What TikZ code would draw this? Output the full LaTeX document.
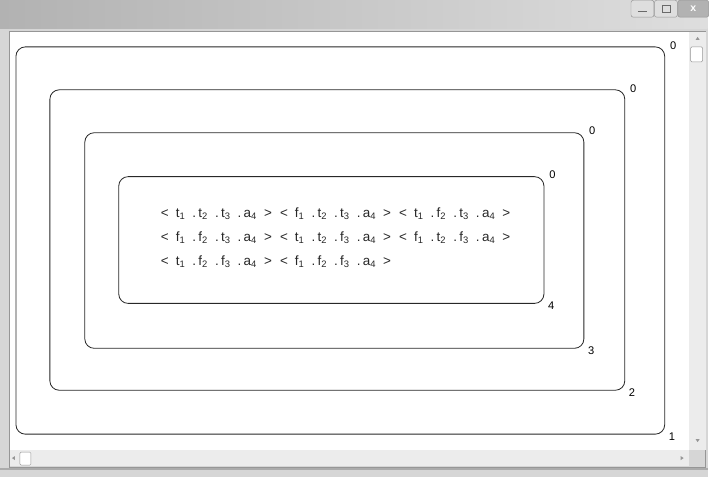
\documentclass[tikz,border=0pt]{standalone}
\usepackage{fontspec}
\setmainfont{Liberation Sans}
\usetikzlibrary{positioning}
\definecolor{FrameGray}{RGB}{214, 214, 214}
\definecolor{TitleDark}{RGB}{178, 178, 178}
\definecolor{TitleLight}{RGB}{222, 222, 222}
\definecolor{BarGray}{RGB}{236, 236, 236}
\definecolor{EdgeGray}{RGB}{150, 150, 150}
\definecolor{LineGray}{RGB}{40, 40, 40}

\newcommand{\tpl}[3]{<\hspace{6pt}#1\textsubscript{1}\hspace{6pt}.\hspace{2pt}#2\textsubscript{2}\hspace{6pt}.\hspace{2pt}#3\textsubscript{3}\hspace{6pt}.\hspace{2pt}a\textsubscript{4}\hspace{6pt}>}
\newcommand{\tplgap}{\hspace{7pt}}

\tikzset{
  levelbox/.style={draw=LineGray, line width=0.7pt, rounded corners=8pt, inner sep=0pt},
  levelnum/.style={inner sep=0pt, font=\fontsize{9.5}{10}\selectfont},
  rowtext/.style={inner sep=0pt, anchor=base west, text=LineGray, font=\fontsize{11.5}{12}\selectfont},
  winbtn/.style={draw=EdgeGray, fill=TitleLight, rounded corners=2pt, inner sep=0pt}
}

\begin{document}
\begin{tikzpicture}[x=0.03cm, y=-0.03cm]
  % window frame
  \fill[FrameGray] (0,0) rectangle (709,477);
  \shade[left color=TitleDark, right color=TitleLight] (0,0) rectangle (709,28);
  \fill[white] (10,31) rectangle (690,450);
  \draw[EdgeGray] (9,30) rectangle (707,467);
  \fill[FrameGray!80!black] (0,468) rectangle (709,470);

  % scroll bars
  \fill[BarGray] (690,31) rectangle (707,450);
  \fill[BarGray] (10,450) rectangle (690,466);
  \fill[EdgeGray] (697,39) -- (701,39) -- (699,36) -- cycle;
  \fill[EdgeGray] (697,439) -- (701,439) -- (699,442) -- cycle;
  \fill[EdgeGray] (15,456) -- (15,460) -- (12,458) -- cycle;
  \fill[EdgeGray] (682,456) -- (682,460) -- (685,458) -- cycle;
  \draw[EdgeGray, fill=white, rounded corners=1pt] (692,46) rectangle (704,61);
  \draw[EdgeGray, fill=white, rounded corners=1pt] (20,452) rectangle (31,465);

  % title buttons
  \node[winbtn, minimum width=0.69cm, minimum height=0.51cm, anchor=north west] (btnmin) at (632,-1) {};
  \node[winbtn, minimum width=0.69cm, minimum height=0.51cm, right=0pt of btnmin] (btnmax) {};
  \node[winbtn, fill=TitleDark, minimum width=0.93cm, minimum height=0.51cm, right=0pt of btnmax] (btnclose) {};
  \draw[EdgeGray!70!black, line width=0.8pt] ([xshift=-4pt, yshift=-2pt]btnmin.center) -- ([xshift=4pt, yshift=-2pt]btnmin.center);
  \draw[EdgeGray!70!black] ([xshift=-3.5pt, yshift=-3pt]btnmax.center) rectangle ([xshift=3.5pt, yshift=3pt]btnmax.center);
  \node[font=\bfseries\small, text=white] (xmark) at (btnclose.center) {x};

  % nested boxes
  \node[levelbox, minimum width=19.5cm, minimum height=11.64cm] (lvl1) at (341,240) {};
  \node[levelbox, minimum width=17.28cm, minimum height=9.03cm] (lvl2) at (338,239.5) {};
  \node[levelbox, minimum width=15cm, minimum height=6.48cm] (lvl3) at (335,240) {};
  \node[levelbox, minimum width=12.78cm, minimum height=3.81cm] (lvl4) at (332,239.5) {};

  \node[levelnum, anchor=west] (top1) at ([xshift=4pt, yshift=1pt]lvl1.north east) {0};
  \node[levelnum, anchor=west] (top2) at ([xshift=4pt, yshift=1pt]lvl2.north east) {0};
  \node[levelnum, anchor=west] (top3) at ([xshift=4pt, yshift=1pt]lvl3.north east) {0};
  \node[levelnum, anchor=west] (top4) at ([xshift=4pt, yshift=1pt]lvl4.north east) {0};
  \node[levelnum, anchor=west] (bot1) at ([xshift=3pt, yshift=-2pt]lvl1.south east) {1};
  \node[levelnum, anchor=west] (bot2) at ([xshift=3pt, yshift=-2pt]lvl2.south east) {2};
  \node[levelnum, anchor=west] (bot3) at ([xshift=3pt, yshift=-2pt]lvl3.south east) {3};
  \node[levelnum, anchor=west] (bot4) at ([xshift=3pt, yshift=-2pt]lvl4.south east) {4};

  % tuples
  \node[rowtext] (row1) at (161,217) {\tpl{t}{t}{t}\tplgap\tpl{f}{t}{t}\tplgap\tpl{t}{f}{t}};
  \node[rowtext] (row2) at (161,241) {\tpl{f}{f}{t}\tplgap\tpl{t}{t}{f}\tplgap\tpl{f}{t}{f}};
  \node[rowtext] (row3) at (161,265) {\tpl{t}{f}{f}\tplgap\tpl{f}{f}{f}};
\end{tikzpicture}
\end{document}
